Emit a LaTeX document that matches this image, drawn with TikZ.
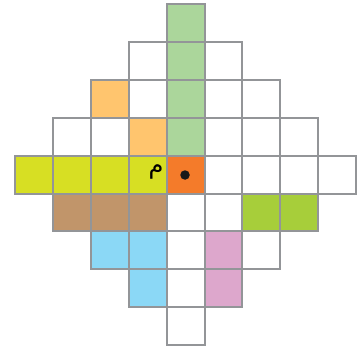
\documentclass[tikz,border=0pt]{standalone}
\usepackage{fontspec}
\newfontfamily\arabicfont[Script=Arabic]{DejaVu Sans}
\TeXXeTstate=1
\definecolor{gridgray}{HTML}{939598}
\definecolor{cgreen}{HTML}{ABD69B}
\definecolor{corange}{HTML}{FFC56E}
\definecolor{cyellow}{HTML}{D7DF23}
\definecolor{cdorange}{HTML}{F47B2A}
\definecolor{cbrown}{HTML}{C1956A}
\definecolor{clime}{HTML}{A7CE3A}
\definecolor{cblue}{HTML}{8BD8F6}
\definecolor{cpink}{HTML}{DDA7CC}
\newcommand\gcell[3]{\filldraw[cellbox,fill=#3] ({15+#1*37.9},{4+#2*37.9}) rectangle ++(37.9,37.9);}
\begin{document}
\begin{tikzpicture}[x=1pt,y=-1pt,cellbox/.style={draw=gridgray,line width=2pt}]
\useasboundingbox (0,0) rectangle (364,350);
% row 0
\gcell{4}{0}{cgreen}
% row 1
\gcell{3}{1}{white}\gcell{4}{1}{cgreen}\gcell{5}{1}{white}
% row 2
\gcell{2}{2}{corange}\gcell{3}{2}{white}\gcell{4}{2}{cgreen}\gcell{5}{2}{white}\gcell{6}{2}{white}
% row 3
\gcell{1}{3}{white}\gcell{2}{3}{white}\gcell{3}{3}{corange}\gcell{4}{3}{cgreen}\gcell{5}{3}{white}\gcell{6}{3}{white}\gcell{7}{3}{white}
% row 4
\gcell{0}{4}{cyellow}\gcell{1}{4}{cyellow}\gcell{2}{4}{cyellow}\gcell{3}{4}{cyellow}\gcell{4}{4}{cdorange}\gcell{5}{4}{white}\gcell{6}{4}{white}\gcell{7}{4}{white}\gcell{8}{4}{white}
% row 5
\gcell{1}{5}{cbrown}\gcell{2}{5}{cbrown}\gcell{3}{5}{cbrown}\gcell{4}{5}{white}\gcell{5}{5}{white}\gcell{6}{5}{clime}\gcell{7}{5}{clime}
% row 6
\gcell{2}{6}{cblue}\gcell{3}{6}{cblue}\gcell{4}{6}{white}\gcell{5}{6}{cpink}\gcell{6}{6}{white}
% row 7
\gcell{3}{7}{cblue}\gcell{4}{7}{white}\gcell{5}{7}{cpink}
% row 8
\gcell{4}{8}{white}
\node[inner sep=0pt] (meem) at (156,172) {\arabicfont\fontsize{24}{24}\selectfont\beginR م\endR};
\node[circle,fill=black!90,inner sep=0pt,minimum size=9.5pt] (dot) at (185,175) {};
\end{tikzpicture}
\end{document}
